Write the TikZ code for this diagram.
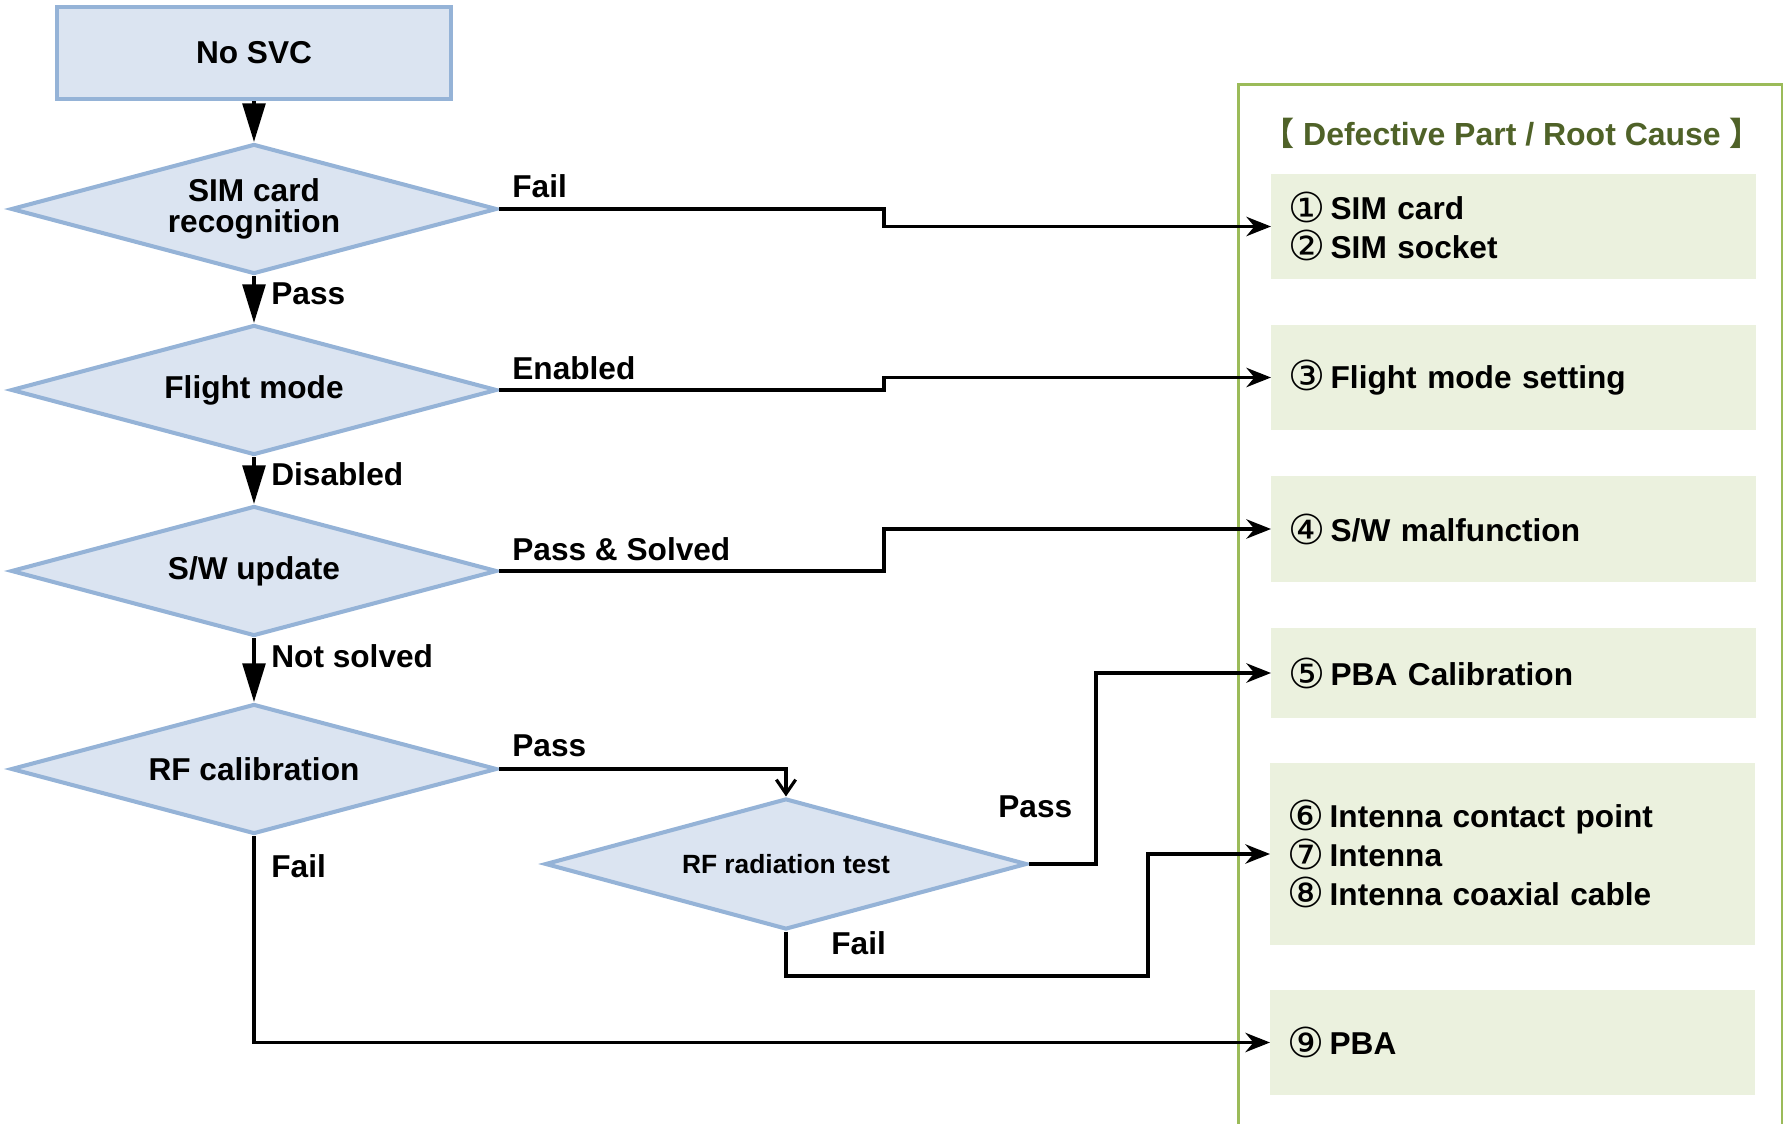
\documentclass[tikz,border=0pt]{standalone}
\usepackage{fontspec}
\setmainfont{Liberation Sans}
\newfontfamily\cjk{Noto Sans CJK JP}
\newfontfamily\djv{DejaVu Sans}
\newcommand\circnum[1]{\raisebox{-1.5pt}{\fontsize{23.5}{20}\selectfont\djv\mdseries #1}\,}
\usetikzlibrary{shapes.geometric,arrows.meta}
\definecolor{dfill}{HTML}{DBE4F1}
\definecolor{dborder}{HTML}{95B3D7}
\definecolor{gfill}{HTML}{EBF1DE}
\definecolor{gborder}{HTML}{9BBB59}
\definecolor{gtitle}{HTML}{4F6228}
\begin{document}
\begin{tikzpicture}[x=0.02cm,y=-0.02cm,
 every node/.style={font=\fontsize{18}{22}\selectfont\bfseries},
 startbox/.style={draw=dborder,fill=dfill,line width=2.3pt,minimum width=7.88cm,minimum height=1.84cm},
 decision/.style={diamond,shape aspect=3.74,draw=dborder,fill=dfill,line width=2.3pt,minimum width=9.72cm,minimum height=2.6cm,inner sep=0pt,align=center,font=\fontsize{18}{18}\selectfont\bfseries},
 causebox/.style={fill=gfill,minimum width=9.7cm,text width=9.02cm,inner xsep=0.34cm,inner ysep=0pt,align=left,anchor=west},
 lbl/.style={anchor=west,inner sep=0pt},
 conn/.style={line width=1.8pt},
 downarrow/.style={conn,-{Triangle[length=22pt,width=13pt]}},
 rarrow/.style={conn,-{Stealth[length=14pt,width=11pt]}},
 openarrow/.style={conn,-{Straight Barb[length=8pt,width=11pt]}}
]
\useasboundingbox (0,0) rectangle (1783,1124);

% right panel
\node[draw=gborder,line width=1.7pt,minimum width=10.88cm,minimum height=21.4cm,anchor=north west,inner sep=0pt] (panel) at (1237,83) {};
\node[text=gtitle,font=\fontsize{18.2}{22}\selectfont\bfseries] (title) at (1512,133) {{\cjk 【}\ Defective Part / Root Cause\ {\cjk 】}};

\node[causebox,minimum height=2.1cm] (b1) at (1271,226.5) {\circnum{①}SIM card\\\circnum{②}SIM socket};
\node[causebox,minimum height=2.1cm] (b2) at (1271,377.5) {\circnum{③}Flight mode setting};
\node[causebox,minimum height=2.12cm] (b3) at (1271,529) {\circnum{④}S/W malfunction};
\node[causebox,minimum height=1.8cm] (b4) at (1271,673) {\circnum{⑤}PBA Calibration};
\node[causebox,minimum height=3.64cm] (b5) at (1270,854) {\circnum{⑥}Intenna contact point\\\circnum{⑦}Intenna\\\circnum{⑧}Intenna coaxial cable};
\node[causebox,minimum height=2.1cm] (b6) at (1270,1042.5) {\circnum{⑨}PBA};

% flow
\node[startbox] (nosvc) at (254,53) {No SVC};
\node[decision] (sim) at (254,209) {SIM card\\recognition};
\node[decision] (flight) at (254,390) {Flight mode};
\node[decision] (sw) at (254,571) {S/W update};
\node[decision] (rfcal) at (254,769) {RF calibration};
\node[decision,font=\fontsize{15}{17}\selectfont\bfseries,minimum width=9.64cm,minimum height=2.62cm] (rfrad) at (786,864) {RF radiation test};

\coordinate (jx) at (884,0);
\coordinate (jx2) at (1096,0);
\coordinate (jx3) at (1148,0);
\coordinate (jy) at (0,976);

\draw[downarrow] (nosvc) -- (sim);
\draw[downarrow] (sim) -- (flight);
\draw[downarrow] (flight) -- (sw);
\draw[downarrow] (sw) -- (rfcal);

\draw[rarrow] (sim.east) -- (sim.east -| jx) |- (b1.west);
\draw[rarrow] (flight.east) -- (flight.east -| jx) |- (b2.west);
\draw[rarrow] (sw.east) -- (sw.east -| jx) |- (b3.west);
\draw[openarrow] (rfcal.east) -- (rfcal.east -| rfrad.north) -- (rfrad.north);
\draw[rarrow] (rfrad.east) -- (rfrad.east -| jx2) |- (b4.west);
\draw[rarrow] (rfrad.south) -- (rfrad.south |- jy) -| (jx3 |- b5.west) -- (b5.west);
\draw[rarrow] (rfcal.south) |- (b6.west);

% labels
\node[lbl] (l1) at (512,186) {Fail};
\node[lbl] (l2) at (271,294) {Pass};
\node[lbl] (l3) at (512,368) {Enabled};
\node[lbl] (l4) at (271,474) {Disabled};
\node[lbl] (l5) at (512,549) {Pass \& Solved};
\node[lbl] (l6) at (271,656) {Not solved};
\node[lbl] (l7) at (512,746) {Pass};
\node[lbl] (l8) at (998,807) {Pass};
\node[lbl] (l9) at (831,943) {Fail};
\node[lbl] (l10) at (271,866) {Fail};
\end{tikzpicture}
\end{document}
